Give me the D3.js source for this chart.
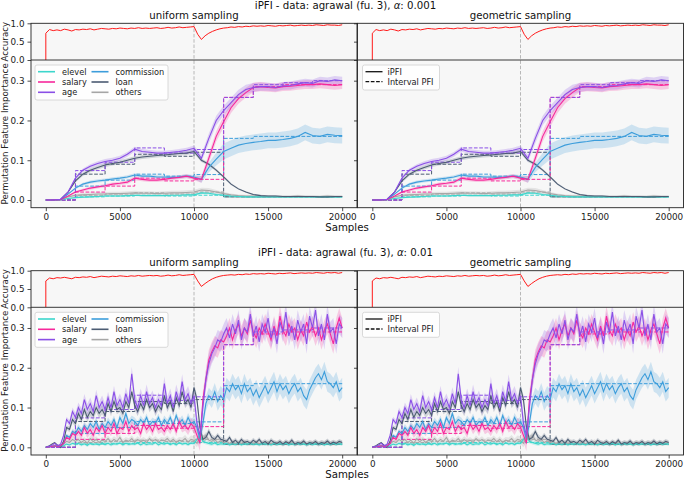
<!DOCTYPE html>
<html><head><meta charset="utf-8">
<script src="https://cdn.jsdelivr.net/npm/d3@7"></script>
<style>body{margin:0;background:#fff} svg{font-family:"DejaVu Sans",sans-serif}</style>
</head><body><svg id="c" width="685" height="480"></svg>
<script>
// ---------------- DATA ----------------
const features = ["elevel","salary","age","commission","loan","others"];
const xTicks = [0,5000,10000,15000,20000];
const accTicks = [0,0.5,1.0];
const pfiTicks = [0,0.1,0.2,0.3];
const columnTitles = ["uniform sampling","geometric sampling"];
const rowTitles = ["iPFI - data: agrawal (fu. 3), ", "iPFI - data: agrawal (fu. 3), "];
const rowAlpha = ["0.001","0.01"];
const legendLabels2 = ["iPFI","Interval PFI"];

const samplesA = d3.range(0, 20001, 500);   // alpha 0.001 rows
const samplesB = d3.range(0, 20001, 200);   // alpha 0.01 rows
const accSamples = [0].concat(d3.range(0, 20001, 250));
const sdSamples = d3.range(0, 20001, 1000);
const intervalEdges = [0,2000,4000,6000,8000,10000,12000,14000,16000,18000];
const driftAt = 10000;

const accA = [0,0.73,0.83,0.8,0.82,0.8,0.84,0.82,0.79,0.83,
 0.82,0.84,0.83,0.85,0.82,0.84,0.86,0.85,0.84,0.86,
 0.85,0.87,0.86,0.85,0.87,0.86,0.88,0.86,0.87,0.86,
 0.87,0.88,0.86,0.87,0.89,0.87,0.88,0.9,0.88,0.89,
 0.9,0.91,0.7,0.56,0.66,0.73,0.78,0.82,0.85,0.87,
 0.88,0.9,0.89,0.91,0.9,0.92,0.91,0.93,0.92,0.93,
 0.92,0.94,0.93,0.92,0.94,0.93,0.94,0.95,0.93,0.94,
 0.95,0.94,0.95,0.94,0.96,0.95,0.94,0.96,0.95,0.95,
 0.94,0.96];
const accB = [0,0.72,0.8,0.78,0.81,0.8,0.82,0.8,0.78,0.82,
 0.81,0.83,0.82,0.84,0.81,0.83,0.85,0.84,0.83,0.85,
 0.84,0.86,0.85,0.84,0.86,0.85,0.87,0.85,0.86,0.87,
 0.86,0.87,0.85,0.86,0.88,0.86,0.87,0.89,0.87,0.88,
 0.89,0.9,0.72,0.57,0.65,0.72,0.78,0.82,0.85,0.87,
 0.88,0.89,0.88,0.9,0.89,0.91,0.9,0.92,0.91,0.92,
 0.91,0.93,0.92,0.91,0.93,0.92,0.93,0.94,0.92,0.93,
 0.94,0.93,0.94,0.93,0.95,0.94,0.93,0.95,0.94,0.95,
 0.93,0.95];

// alpha = 0.001 (smooth)
const elevelA = [0,0,0.001,0.004,0.006,0.007,0.008,0.009,0.01,0.01,
 0.01,0.011,0.012,0.011,0.011,0.011,0.011,0.012,0.012,0.013,
 0.013,0.018,0.017,0.014,0.012,0.01,0.009,0.008,0.008,0.008,
 0.008,0.008,0.008,0.008,0.008,0.008,0.008,0.008,0.008,0.008,0.008];
const salaryA = [0,0,0.001,0.01,0.02,0.025,0.03,0.033,0.036,0.04,
 0.042,0.045,0.055,0.052,0.05,0.05,0.052,0.055,0.057,0.06,
 0.055,0.052,0.105,0.16,0.197,0.232,0.255,0.27,0.283,0.285,
 0.283,0.282,0.285,0.286,0.288,0.29,0.29,0.292,0.29,0.288,0.29];
const ageA = [0,0,0.002,0.02,0.055,0.075,0.085,0.092,0.097,0.1,
 0.105,0.115,0.128,0.122,0.12,0.118,0.118,0.12,0.122,0.125,
 0.13,0.105,0.155,0.2,0.225,0.245,0.265,0.278,0.283,0.285,
 0.285,0.283,0.287,0.288,0.292,0.295,0.293,0.3,0.298,0.302,0.3];
const commissionA = [0,0,0.001,0.015,0.03,0.04,0.045,0.048,0.05,0.053,
 0.055,0.058,0.063,0.06,0.06,0.058,0.058,0.057,0.058,0.06,
 0.058,0.052,0.082,0.103,0.122,0.13,0.138,0.142,0.145,0.147,
 0.15,0.15,0.152,0.155,0.16,0.17,0.162,0.16,0.165,0.163,0.162];
const loanA = [0,0,0.002,0.02,0.048,0.065,0.075,0.082,0.088,0.092,
 0.095,0.1,0.105,0.108,0.11,0.112,0.113,0.115,0.117,0.118,
 0.122,0.1,0.09,0.075,0.058,0.04,0.028,0.02,0.014,0.011,
 0.01,0.01,0.009,0.009,0.009,0.009,0.009,0.008,0.008,0.009,0.009];
const othersA = [0,0,0.001,0.008,0.012,0.013,0.014,0.015,0.015,0.016,
 0.016,0.017,0.018,0.017,0.017,0.016,0.017,0.018,0.018,0.019,
 0.02,0.025,0.024,0.02,0.016,0.013,0.011,0.01,0.01,0.009,
 0.009,0.009,0.009,0.009,0.01,0.009,0.009,0.009,0.01,0.009,0.009];

// alpha = 0.01 (noisy)
const elevelB = [0,0.001,0.002,0.003,0.002,0.003,0.004,0.008,0.006,0.01,0.008,
 0.01,0.006,0.009,0.005,0.01,0.007,0.009,0.006,0.011,0.007,
 0.01,0.006,0.009,0.008,0.011,0.006,0.01,0.007,0.009,0.008,
 0.011,0.006,0.01,0.007,0.009,0.008,0.012,0.006,0.01,0.008,
 0.011,0.007,0.01,0.006,0.012,0.008,0.01,0.007,0.011,0.01,
 0.02,0.03,0.015,0.012,0.01,0.008,0.011,0.007,0.009,0.008,
 0.01,0.006,0.009,0.007,0.01,0.006,0.009,0.008,0.01,0.007,
 0.009,0.006,0.01,0.008,0.009,0.006,0.01,0.007,0.009,0.008,
 0.01,0.006,0.009,0.007,0.01,0.008,0.009,0.006,0.01,0.007,
 0.009,0.008,0.01,0.006,0.009,0.007,0.01,0.008,0.009,0.008];
const salaryB = [0,0.001,0.002,0.004,0.002,0.004,0.01,0.025,0.02,0.035,0.03,
 0.04,0.03,0.05,0.035,0.045,0.03,0.05,0.04,0.055,0.035,
 0.05,0.04,0.06,0.035,0.05,0.045,0.065,0.04,0.055,0.045,
 0.05,0.035,0.06,0.045,0.055,0.04,0.06,0.045,0.05,0.04,
 0.055,0.045,0.06,0.04,0.065,0.05,0.055,0.045,0.06,0.05,
 0.03,0.01,0.12,0.17,0.22,0.24,0.255,0.25,0.27,0.265,
 0.28,0.3,0.27,0.295,0.31,0.28,0.3,0.285,0.32,0.29,
 0.275,0.3,0.285,0.31,0.29,0.27,0.305,0.28,0.33,0.295,
 0.28,0.31,0.29,0.3,0.27,0.295,0.28,0.315,0.29,0.305,
 0.28,0.3,0.27,0.295,0.31,0.285,0.26,0.3,0.325,0.3];
const ageB = [0,0.002,0.005,0.01,0.004,0.008,0.03,0.07,0.06,0.09,0.075,
 0.1,0.085,0.12,0.095,0.11,0.09,0.13,0.1,0.115,0.095,
 0.125,0.1,0.14,0.105,0.12,0.1,0.135,0.11,0.185,0.12,
 0.1,0.13,0.105,0.14,0.11,0.125,0.1,0.12,0.105,0.16,
 0.11,0.13,0.1,0.14,0.115,0.165,0.12,0.135,0.11,0.13,
 0.06,0.03,0.1,0.17,0.21,0.235,0.25,0.27,0.265,0.285,
 0.3,0.275,0.31,0.285,0.32,0.27,0.3,0.29,0.335,0.28,
 0.305,0.265,0.31,0.29,0.325,0.275,0.3,0.26,0.315,0.29,
 0.34,0.28,0.305,0.27,0.32,0.29,0.31,0.26,0.33,0.3,
 0.345,0.28,0.31,0.27,0.335,0.29,0.3,0.26,0.31,0.3];
const commissionB = [0,0.001,0.002,0.003,0.002,0.003,0.01,0.03,0.025,0.04,0.035,
 0.05,0.04,0.055,0.045,0.06,0.05,0.065,0.045,0.06,0.05,
 0.065,0.055,0.07,0.05,0.075,0.06,0.085,0.06,0.07,0.065,
 0.055,0.07,0.06,0.075,0.055,0.065,0.06,0.075,0.055,0.07,
 0.06,0.075,0.055,0.08,0.06,0.07,0.055,0.075,0.06,0.065,
 0.05,0.02,0.06,0.11,0.13,0.12,0.14,0.115,0.13,0.12,
 0.15,0.14,0.16,0.145,0.155,0.135,0.16,0.14,0.15,0.13,
 0.145,0.125,0.14,0.155,0.135,0.15,0.165,0.14,0.16,0.145,
 0.155,0.135,0.15,0.16,0.14,0.15,0.13,0.12,0.145,0.16,
 0.175,0.185,0.17,0.19,0.165,0.16,0.15,0.165,0.14,0.15];
const loanB = [0,0.003,0.008,0.012,0.005,0,0.015,0.05,0.045,0.07,0.06,
 0.085,0.07,0.095,0.075,0.09,0.08,0.1,0.085,0.095,0.08,
 0.11,0.09,0.115,0.095,0.1,0.085,0.115,0.1,0.14,0.105,
 0.09,0.11,0.095,0.12,0.1,0.11,0.09,0.105,0.095,0.13,
 0.1,0.115,0.09,0.125,0.105,0.14,0.11,0.12,0.1,0.15,
 0.12,0.05,0.02,0.025,0.04,0.025,0.02,0.03,0.02,0.018,
 0.015,0.025,0.012,0.018,0.01,0.02,0.012,0.015,0.01,0.018,
 0.012,0.02,0.01,0.015,0.008,0.018,0.012,0.01,0.015,0.008,
 0.014,0.01,0.018,0.008,0.012,0.01,0.016,0.008,0.012,0.01,
 0.015,0.008,0.012,0.01,0.016,0.009,0.013,0.01,0.015,0.012];
const othersB = [0,0.001,0.003,0.005,0.003,0.004,0.008,0.015,0.012,0.02,0.015,
 0.02,0.012,0.018,0.01,0.022,0.014,0.02,0.012,0.018,0.015,
 0.022,0.013,0.02,0.015,0.025,0.012,0.018,0.015,0.022,0.013,
 0.02,0.014,0.018,0.012,0.022,0.015,0.02,0.013,0.018,0.016,
 0.022,0.014,0.02,0.012,0.018,0.016,0.022,0.013,0.02,0.018,
 0.01,0.025,0.02,0.03,0.018,0.015,0.02,0.012,0.016,0.012,
 0.015,0.01,0.014,0.009,0.013,0.01,0.015,0.009,0.012,0.01,
 0.013,0.009,0.012,0.01,0.014,0.008,0.012,0.01,0.013,0.009,
 0.012,0.01,0.014,0.009,0.011,0.01,0.013,0.008,0.012,0.01,
 0.013,0.009,0.012,0.01,0.014,0.009,0.011,0.01,0.013,0.01];

// confidence half-widths (every 1000 samples)
const sdA = {
 elevel:    [0,0,0.002,0.002,0.002,0.002,0.002,0.002,0.002,0.002,0.003,0.003,0.002,0.002,0.002,0.002,0.002,0.002,0.002,0.002,0.002],
 salary:    [0,0,0.003,0.004,0.004,0.004,0.005,0.005,0.005,0.005,0.005,0.012,0.014,0.013,0.012,0.011,0.011,0.011,0.011,0.011,0.011],
 age:       [0,0,0.004,0.005,0.006,0.006,0.006,0.006,0.006,0.006,0.007,0.012,0.012,0.012,0.011,0.01,0.01,0.01,0.01,0.01,0.01],
 commission:[0,0,0.003,0.004,0.004,0.004,0.004,0.004,0.004,0.004,0.005,0.012,0.02,0.02,0.02,0.02,0.02,0.02,0.02,0.02,0.02],
 loan:      [0,0,0.004,0.005,0.005,0.005,0.005,0.005,0.005,0.005,0.005,0.004,0.003,0.002,0.002,0.002,0.002,0.002,0.002,0.002,0.002],
 others:    [0,0,0.004,0.005,0.005,0.005,0.005,0.005,0.005,0.005,0.006,0.006,0.004,0.003,0.003,0.003,0.003,0.003,0.003,0.003,0.003]
};
const sdB = {
 elevel:    [0,0.002,0.004,0.004,0.004,0.004,0.004,0.004,0.004,0.004,0.005,0.005,0.004,0.004,0.004,0.004,0.004,0.004,0.004,0.004,0.004],
 salary:    [0,0.003,0.01,0.012,0.012,0.012,0.012,0.012,0.012,0.012,0.015,0.025,0.025,0.025,0.025,0.025,0.025,0.025,0.025,0.025,0.025],
 age:       [0,0.003,0.012,0.015,0.015,0.015,0.018,0.018,0.018,0.018,0.02,0.025,0.025,0.025,0.025,0.025,0.025,0.025,0.025,0.025,0.025],
 commission:[0,0.002,0.008,0.01,0.01,0.01,0.01,0.01,0.01,0.01,0.012,0.02,0.025,0.025,0.025,0.025,0.025,0.025,0.025,0.025,0.025],
 loan:      [0,0.003,0.01,0.012,0.012,0.012,0.012,0.012,0.012,0.012,0.012,0.008,0.006,0.006,0.006,0.006,0.006,0.006,0.006,0.006,0.006],
 others:    [0,0.002,0.008,0.008,0.008,0.008,0.008,0.008,0.008,0.008,0.01,0.008,0.006,0.006,0.006,0.006,0.006,0.006,0.006,0.006,0.006]
};

// interval PFI (one value per 2000-sample interval)
const intervalPFI = {
 elevel:    [0,0.008,0.01,0.012,0.01,0.012,0.008,0.008,0.008,0.008],
 salary:    [0,0.02,0.035,0.055,0.048,0.052,0.258,0.285,0.29,0.29],
 age:       [0,0.074,0.095,0.131,0.118,0.127,0.258,0.29,0.295,0.3],
 commission:[0,0.035,0.05,0.065,0.06,0.064,0.155,0.16,0.16,0.16],
 loan:      [0,0.065,0.09,0.115,0.11,0.12,0.008,0.008,0.008,0.008],
 others:    [0,0.012,0.015,0.018,0.015,0.02,0.008,0.008,0.008,0.008]
};

// ---------------- STYLE ----------------
const color = {elevel:"#3cd6cc", salary:"#f7289b", age:"#8a4fe6", commission:"#3c9ddb", loan:"#4b5b72", others:"#a6a6a6"};
const drawOrder = ["others","elevel","loan","commission","salary","age"];

const rowsCfg = [
 {top:23.3, mid:60, bot:207.7, supY:9, titleY:18.5, tickY:220.5, samplesY:231,
  samples:samplesA, acc:accA, sd:sdA,
  vals:{elevel:elevelA,salary:salaryA,age:ageA,commission:commissionA,loan:loanA,others:othersA}},
 {top:270.7, mid:307.3, bot:455, supY:256, titleY:265.5, tickY:468, samplesY:478,
  samples:samplesB, acc:accB, sd:sdB,
  vals:{elevel:elevelB,salary:salaryB,age:ageB,commission:commissionB,loan:loanB,others:othersB}}
];
const colsCfg = [{l:31,r:357},{l:357.5,r:683.5}];

const svg = d3.select("#c");
const defs = svg.append("defs");
let clipId = 0;

function addClip(x,y,w,h){
  const id = "clip"+(clipId++);
  defs.append("clipPath").attr("id",id).append("rect").attr("x",x).attr("y",y).attr("width",w).attr("height",h);
  return "url(#"+id+")";
}

rowsCfg.forEach((R,ri)=>{
  // suptitle
  const st = svg.append("text").attr("x",345.5).attr("y",R.supY).attr("text-anchor","middle")
     .attr("font-size",10.2).attr("fill","#111");
  st.append("tspan").text(rowTitles[ri]);
  st.append("tspan").attr("font-style","italic").text("α");
  st.append("tspan").text(": "+rowAlpha[ri]);
  // Samples label
  svg.append("text").attr("x",347).attr("y",R.samplesY).attr("text-anchor","middle")
     .attr("font-size",10.2).attr("fill","#111").text("Samples");

  colsCfg.forEach((C,ci)=>{
    const g = svg.append("g");
    const x = d3.scaleLinear().domain([-1000,21000]).range([C.l,C.r]);
    const yA = d3.scaleLinear().domain([0,1]).range([R.mid,R.top]);
    const yP = d3.scaleLinear().domain([-0.0193,0.352]).range([R.bot,R.mid]);

    // backgrounds
    g.append("rect").attr("x",C.l).attr("y",R.top).attr("width",C.r-C.l).attr("height",R.bot-R.top).attr("fill","#f7f7f7");

    // title
    svg.append("text").attr("x",(C.l+C.r)/2).attr("y",R.titleY).attr("text-anchor","middle")
      .attr("font-size",10.2).attr("fill","#111").text(columnTitles[ci]);

    // drift line
    g.append("line").attr("x1",x(driftAt)).attr("x2",x(driftAt)).attr("y1",R.top).attr("y2",R.bot)
      .attr("stroke","#b0b0b0").attr("stroke-width",0.9).attr("stroke-dasharray","3.5,1.8");

    // accuracy
    const accClip = addClip(C.l,R.top,C.r-C.l,R.mid-R.top);
    g.append("path").attr("clip-path",accClip)
      .attr("d", d3.line().x((d,i)=>x(accSamples[i])).y(d=>yA(d))(R.acc))
      .attr("fill","none").attr("stroke","#ff1a1a").attr("stroke-width",1);

    // PFI
    const pClip = addClip(C.l,R.mid,C.r-C.l,R.bot-R.mid);
    const pg = g.append("g").attr("clip-path",pClip);
    const sdScale = {};
    features.forEach(f=>{ sdScale[f] = d3.scaleLinear().domain(sdSamples).range(R.sd[f]); });
    // bands
    drawOrder.forEach(f=>{
      const v = R.vals[f];
      pg.append("path")
        .attr("d", d3.area().x((d,i)=>x(R.samples[i])).y0((d,i)=>yP(d - sdScale[f](R.samples[i]))).y1((d,i)=>yP(d + sdScale[f](R.samples[i])))(v))
        .attr("fill",color[f]).attr("opacity",0.22);
    });
    // interval PFI
    drawOrder.forEach(f=>{
      const pts = intervalEdges.map((e,i)=>[e,intervalPFI[f][i]]);
      pts.push([20000,intervalPFI[f][intervalPFI[f].length-1]]);
      pg.append("path")
        .attr("d", d3.line().x(d=>x(d[0])).y(d=>yP(d[1])).curve(d3.curveStepAfter)(pts))
        .attr("fill","none").attr("stroke",color[f]).attr("stroke-width",1).attr("stroke-dasharray","3.7,1.6");
    });
    // iPFI lines
    drawOrder.forEach(f=>{
      pg.append("path")
        .attr("d", d3.line().x((d,i)=>x(R.samples[i])).y(d=>yP(d))(R.vals[f]))
        .attr("fill","none").attr("stroke",color[f]).attr("stroke-width",1.1);
    });

    // spines
    g.append("rect").attr("x",C.l).attr("y",R.top).attr("width",C.r-C.l).attr("height",R.bot-R.top)
      .attr("fill","none").attr("stroke","#222").attr("stroke-width",0.9);
    g.append("line").attr("x1",C.l).attr("x2",C.r).attr("y1",R.mid).attr("y2",R.mid).attr("stroke","#222").attr("stroke-width",0.9);

    // axes
    const axA = d3.axisLeft(yA).tickValues(accTicks).tickSize(3.5).tickPadding(3).tickFormat(ci===0?d3.format(".1f"):()=> "");
    const axP = d3.axisLeft(yP).tickValues(pfiTicks).tickSize(3.5).tickPadding(3).tickFormat(ci===0?d3.format(".1f"):()=> "");
    const axX = d3.axisBottom(x).tickValues(xTicks).tickSize(3.5).tickPadding(2.5).tickFormat(d3.format("d"));
    [[axA,`translate(${C.l},0)`],[axP,`translate(${C.l},0)`],[axX,`translate(0,${R.bot})`]].forEach(([ax,tr])=>{
      const ag = g.append("g").attr("transform",tr).call(ax);
      ag.select(".domain").remove();
      ag.selectAll("line").attr("stroke","#222").attr("stroke-width",0.8);
      ag.selectAll("text").attr("font-size",8.8).attr("fill","#222").attr("font-family","DejaVu Sans");
    });

    // y labels
    if(ci===0){
      svg.append("text").attr("transform",`translate(8,${(R.top+R.mid)/2}) rotate(-90)`).attr("text-anchor","middle")
        .attr("font-size",8.7).attr("fill","#222").text("Accuracy");
      svg.append("text").attr("transform",`translate(8,${(R.mid+R.bot)/2}) rotate(-90)`).attr("text-anchor","middle")
        .attr("font-size",8.7).attr("fill","#222").text("Permutation Feature Importance");
    }

    // legends
    const ly = R.mid + 5;
    if(ci===0){
      const lg = g.append("g");
      lg.append("rect").attr("x",C.l+4).attr("y",ly).attr("width",133).attr("height",35).attr("rx",2)
        .attr("fill","#fff").attr("fill-opacity",0.8).attr("stroke","#d0d0d0").attr("stroke-width",0.8);
      features.forEach((f,i)=>{
        const col = Math.floor(i/3), row = i%3;
        const lx = C.l + 7 + col*53.5, yy = ly + 6.7 + row*10.3;
        lg.append("line").attr("x1",lx).attr("x2",lx+17).attr("y1",yy).attr("y2",yy)
          .attr("stroke",color[f]).attr("stroke-width",1.6);
        lg.append("text").attr("x",lx+24).attr("y",yy+3).attr("font-size",8.2).attr("fill","#222").text(f);
      });
    } else {
      const lg = g.append("g");
      lg.append("rect").attr("x",C.l+5).attr("y",ly).attr("width",77).attr("height",25).attr("rx",2)
        .attr("fill","#fff").attr("fill-opacity",0.8).attr("stroke","#d0d0d0").attr("stroke-width",0.8);
      legendLabels2.forEach((t,i)=>{
        const lx = C.l + 8, yy = ly + 6.7 + i*10;
        lg.append("line").attr("x1",lx).attr("x2",lx+17).attr("y1",yy).attr("y2",yy)
          .attr("stroke","#111").attr("stroke-width",1.3).attr("stroke-dasharray",i===1?"3.7,1.6":null);
        lg.append("text").attr("x",lx+22).attr("y",yy+3).attr("font-size",8.2).attr("fill","#222").text(t);
      });
    }
  });
});
</script></body></html>
